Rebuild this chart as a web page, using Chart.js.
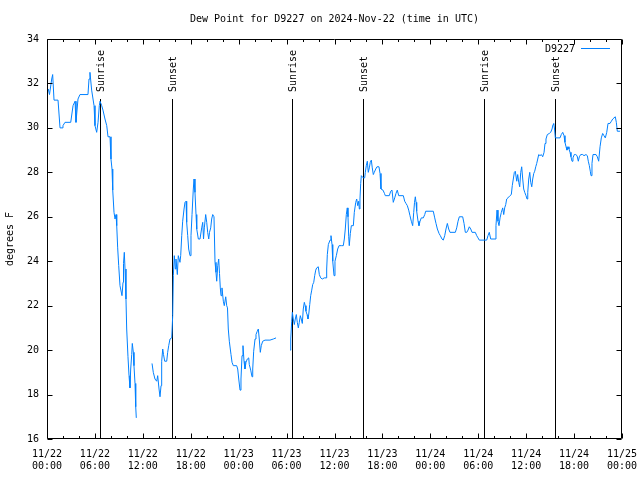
<!DOCTYPE html>
<html><head><meta charset="utf-8">
<script src="https://cdn.jsdelivr.net/npm/chart.js@4.4.1/dist/chart.umd.min.js"></script>
<style>html,body{margin:0;padding:0;background:#fff;} #wrap{width:640px;height:480px;}</style>
</head><body><div id="wrap"><canvas id="c" width="640" height="480"></canvas></div>
<script>
const titleText = 'Dew Point for D9227 on 2024-Nov-22 (time in UTC)';
const seriesName = 'D9227';
const yAxisLabel = 'degrees F';
const tickDates = ['11/22','11/22','11/22','11/22','11/23','11/23','11/23','11/23','11/24','11/24','11/24','11/24','11/25'];
const tickTimes = ['00:00','06:00','12:00','18:00','00:00','06:00','12:00','18:00','00:00','06:00','12:00','18:00','00:00'];
const yMin = 16, yMax = 34, yStep = 2;
const eventNames = ['Sunrise','Sunset','Sunrise','Sunset','Sunrise','Sunset'];
const eventHours = [6.68, 15.67, 30.68, 39.63, 54.66, 63.65];

// hours since 2024-11-22 00:00 UTC
const hours = [
0.16,0.31,0.59,0.71,0.88,1.38,1.63,1.88,2.0,2.25,2.97,3.26,3.51,3.63,3.88,4.13,5.13,5.26,5.38,5.59,
5.89,6.01,6.22,6.39,6.55,6.64,6.85,7.01,7.26,7.48,7.64,7.89,8.01,8.14,8.23,8.39,8.52,8.64,8.73,8.85,
8.98,9.14,9.39,9.52,9.58,9.68,9.77,9.89,9.98,10.14,10.27,10.39,10.48,10.61,10.68,10.81,10.89,11.02,11.11,11.18,
12.2,
13.15,13.31,13.52,13.74,13.86,14.03,14.15,14.28,14.36,14.49,14.59,14.74,14.99,15.11,15.24,15.40,15.62,15.74,15.82,15.94,
16.07,16.15,16.32,16.44,16.65,16.74,16.87,16.99,17.16,17.28,17.41,17.49,17.62,17.74,17.91,18.03,18.16,18.32,18.41,18.53,
18.66,18.75,18.95,19.16,19.37,19.50,19.60,19.70,19.87,20.00,20.12,20.25,20.35,20.50,20.62,20.75,20.91,21.04,21.16,21.25,
21.38,21.50,21.60,21.70,21.79,21.91,22.08,22.20,22.38,22.50,22.60,22.70,22.83,22.95,23.04,23.17,23.33,23.75,23.88,24.01,
24.17,24.29,24.42,24.54,24.67,24.79,24.92,25.08,25.26,25.33,25.51,25.67,25.76,25.88,26.05,26.17,26.33,26.46,26.58,26.71,
26.83,27.01,27.30,27.92,28.34,28.68,
29.5,
30.43,30.52,30.64,30.72,30.84,30.97,31.09,31.22,31.34,31.47,31.59,31.72,31.84,31.97,32.09,32.22,32.33,32.43,32.56,32.68,
32.77,32.90,33.02,33.15,33.27,33.40,33.52,33.65,33.77,33.97,34.10,34.27,34.47,34.72,34.94,35.02,35.10,35.23,35.44,35.56,
35.69,35.78,35.94,36.06,36.23,36.40,36.57,36.90,37.10,37.23,37.35,37.48,37.60,37.69,37.78,37.85,37.98,38.11,38.36,38.48,
38.66,38.78,38.91,39.03,39.11,39.19,39.28,39.36,39.48,39.61,39.78,39.86,39.98,40.11,40.23,40.36,40.48,40.61,40.73,40.86,
40.98,41.16,41.32,41.57,41.70,41.82,42.07,42.26,42.36,42.86,43.04,43.20,43.36,43.54,43.70,43.86,44.04,44.62,44.79,44.95,
45.12,45.29,45.45,45.62,45.79,45.92,46.02,46.12,46.21,46.29,46.46,46.58,46.71,46.87,47.12,47.30,47.42,48.37,48.55,48.71,
48.88,49.09,49.25,49.46,49.62,49.80,49.96,50.13,50.30,50.46,51.13,51.30,51.47,51.63,52.05,52.22,52.38,52.56,52.72,52.88,
53.06,53.22,53.63,53.81,53.97,54.13,55.06,55.22,55.38,55.56,56.10,56.22,56.35,56.47,56.60,56.73,56.89,57.06,57.19,57.31,
57.44,57.56,57.72,57.97,58.14,58.26,58.39,58.52,58.64,58.82,58.94,59.07,59.19,59.32,59.44,59.57,59.69,59.82,59.98,60.11,
60.20,60.32,60.45,60.57,60.70,60.82,60.95,61.07,61.20,61.32,61.45,61.57,61.73,61.90,62.07,62.24,62.36,62.48,62.65,62.90,
63.07,63.24,63.36,63.45,63.55,63.65,64.24,64.40,64.58,64.74,64.86,64.99,65.11,65.24,65.36,65.49,65.61,65.74,65.86,66.03,
66.20,66.37,66.53,66.66,66.83,67.08,67.24,67.49,67.66,67.78,67.91,68.03,68.12,68.24,68.37,68.75,68.91,69.08,69.25,69.41,
69.58,69.74,69.91,70.09,70.25,70.50,70.67,70.84,71.00,71.16,71.29,71.41,71.75
];
const dewPoint = [
31.75,31.5,32.2,32.4,31.25,31.25,30.0,30.0,30.1,30.25,30.25,31.0,31.2,30.25,31.3,31.5,31.5,32.2,32.5,31.7,
31.0,30.1,29.8,30.25,31.0,31.2,31.0,30.8,30.4,30.1,29.6,29.6,28.6,28.15,27.2,26.2,25.9,26.1,25.6,24.6,
23.8,22.9,22.45,23.05,23.9,24.4,23.65,22.3,20.95,19.7,18.85,18.3,19.15,19.8,20.3,19.9,19.3,18.5,17.45,16.95,
null,
19.4,19.0,18.7,18.6,18.85,18.25,17.9,18.4,19.5,20.05,19.8,19.5,19.5,19.9,20.2,20.5,20.55,21.55,23.35,24.25,
23.65,24.1,23.4,24.25,23.95,24.25,25.15,25.8,26.35,26.65,26.7,25.75,25.15,24.55,24.25,25.15,26.1,27.25,27.7,27.1,
26.1,25.45,25.0,25.0,25.5,25.75,25.0,25.5,26.1,25.75,25.3,25.0,25.3,25.5,25.9,26.1,26.0,23.95,23.5,23.1,
23.8,24.1,23.45,22.8,22.45,22.8,22.2,22.0,22.4,22.0,21.9,20.95,20.4,20.05,19.8,19.45,19.3,19.3,19.15,18.7,
18.2,18.7,19.75,20.2,19.5,19.15,19.45,19.6,19.65,19.35,19.1,18.8,19.15,19.95,20.5,20.7,20.85,20.95,20.5,19.9,
20.2,20.4,20.45,20.45,20.5,20.55,
null,
20.0,20.5,21.3,21.7,21.4,21.15,21.4,21.6,21.25,21.0,21.25,21.55,21.4,21.2,21.85,22.15,22.0,21.75,21.6,21.4,
21.6,22.05,22.45,22.7,22.95,23.05,23.35,23.6,23.7,23.75,23.4,23.25,23.2,23.25,23.25,23.65,24.3,24.75,24.95,25.15,
24.75,24.0,23.35,24.0,24.25,24.55,24.7,24.7,24.7,25.0,25.45,26.1,26.4,26.0,25.1,24.7,25.25,25.6,25.6,26.2,
26.65,26.8,26.5,26.7,26.35,26.8,27.5,27.85,27.8,27.75,27.75,28.0,28.3,28.5,28.0,28.2,28.45,28.55,28.2,27.9,
28.0,28.15,28.25,28.25,27.95,27.25,27.2,27.05,26.95,26.95,27.15,27.2,26.65,26.85,27.05,27.2,26.95,26.95,26.7,26.6,
26.5,26.3,26.05,25.8,25.6,26.2,26.65,26.9,26.65,26.25,25.8,25.6,25.8,25.95,25.95,26.1,26.25,26.25,25.95,25.7,
25.45,25.25,25.15,25.0,24.95,25.15,25.45,25.7,25.45,25.3,25.3,25.5,25.8,26.0,26.0,25.7,25.3,25.3,25.4,25.55,
25.45,25.3,25.3,25.15,25.05,24.95,24.95,25.15,25.3,25.0,25.0,25.6,26.3,25.8,25.6,25.95,26.2,26.4,26.1,26.4,
26.55,26.8,26.85,26.95,27.0,27.4,27.7,28.0,28.05,27.6,27.9,27.55,27.35,28.0,28.25,27.7,27.25,27.1,26.95,26.8,
27.1,27.7,28.0,27.55,27.35,27.7,27.95,28.05,28.25,28.4,28.6,28.8,28.75,28.8,28.7,28.9,29.3,29.5,29.7,29.75,
29.8,29.95,30.15,30.2,29.95,29.55,29.55,29.7,29.8,29.65,29.35,29.15,29.0,29.15,29.05,28.9,28.7,28.5,28.65,28.8,
28.8,28.75,28.5,28.7,28.8,28.8,28.75,28.8,28.75,28.5,28.3,28.05,27.85,28.4,28.8,28.8,28.7,28.5,29.15,29.55,
29.75,29.65,29.55,29.8,30.2,30.2,30.3,30.4,30.45,30.5,30.25,29.85,29.85
];

const FONT = "'DejaVu Sans Mono', 'Liberation Mono', monospace";
const lineColor = '#0080ff';

const points = hours.map((h, i) => ({x: h, y: dewPoint[i]}));

const gnuplotPlugin = {
  id: 'gnuplotDecor',
  beforeDatasetsDraw(chart) {
    const {ctx, chartArea: a, scales: {x}} = chart;
    ctx.save();
    ctx.strokeStyle = '#000';
    ctx.lineWidth = 1;
    ctx.fillStyle = '#000';
    ctx.font = '10px ' + FONT;
    eventHours.forEach((h, i) => {
      const px = Math.round(x.getPixelForValue(h)) + 0.5;
      ctx.beginPath();
      ctx.moveTo(px, 99);
      ctx.lineTo(px, a.bottom);
      ctx.stroke();
      ctx.save();
      ctx.translate(px + 1, 92);
      ctx.rotate(-Math.PI / 2);
      ctx.textAlign = 'left';
      ctx.textBaseline = 'middle';
      ctx.fillText(eventNames[i], 0, 0);
      ctx.restore();
    });
    ctx.restore();
  },
  afterDraw(chart) {
    const {ctx, chartArea: a, scales: {x, y}} = chart;
    ctx.save();
    ctx.strokeStyle = '#000';
    ctx.lineWidth = 1;
    const L = a.left + 0.5, R = a.right - 0.5, T = a.top + 0.5, B = a.bottom - 0.5;
    ctx.beginPath();
    ctx.rect(L, T, R - L, B - T);
    ctx.stroke();
    ctx.beginPath();
    for (let h = 0; h <= 72; h += 2) {
      const px = Math.round(x.getPixelForValue(h)) + 0.5;
      const len = (h % 6 === 0) ? 5 : 2.5;
      ctx.moveTo(px, B); ctx.lineTo(px, B - len);
      ctx.moveTo(px, T); ctx.lineTo(px, T + len);
    }
    for (let v = yMin; v <= yMax; v += yStep) {
      const py = Math.round(y.getPixelForValue(v)) + 0.5;
      ctx.moveTo(L, py); ctx.lineTo(L + 5, py);
      ctx.moveTo(R, py); ctx.lineTo(R - 5, py);
    }
    ctx.stroke();
    ctx.fillStyle = '#000';
    ctx.font = '10px ' + FONT;
    ctx.textAlign = 'center';
    ctx.textBaseline = 'middle';
    ctx.fillText(titleText, (a.left + a.right) / 2, 19);
    ctx.save();
    ctx.translate(10, (a.top + a.bottom) / 2);
    ctx.rotate(-Math.PI / 2);
    ctx.fillText(yAxisLabel, 0, 0);
    ctx.restore();
    ctx.textAlign = 'right';
    ctx.fillText(seriesName, 575, 49);
    ctx.strokeStyle = lineColor;
    ctx.beginPath();
    ctx.moveTo(581, 48.5); ctx.lineTo(610, 48.5);
    ctx.stroke();
    ctx.restore();
  }
};

new Chart(document.getElementById('c'), {
  type: 'line',
  data: {
    datasets: [{
      label: seriesName,
      data: points,
      borderColor: lineColor,
      borderWidth: 1,
      pointRadius: 0,
      tension: 0,
      spanGaps: false,
      fill: false
    }]
  },
  options: {
    responsive: false,
    animation: false,
    events: [],
    layout: {padding: {top: 39, right: 18, left: 0, bottom: 0}},
    plugins: {legend: {display: false}, title: {display: false}, tooltip: {enabled: false}},
    scales: {
      x: {
        type: 'linear', min: 0, max: 72,
        grid: {display: false, drawTicks: false},
        border: {display: false},
        afterFit(s) { s.height = 41; s.paddingLeft = 0; s.paddingRight = 0; },
        ticks: {
          stepSize: 6, autoSkip: false, maxRotation: 0, padding: 9,
          color: '#000', font: {family: FONT, size: 10},
          callback: (v, i) => [tickDates[i], tickTimes[i]]
        }
      },
      y: {
        min: yMin, max: yMax,
        grid: {display: false, drawTicks: false},
        border: {display: false},
        afterFit(s) { s.width = 47; s.paddingTop = 0; s.paddingBottom = 0; },
        ticks: {
          stepSize: yStep, padding: 8,
          color: '#000', font: {family: FONT, size: 10}
        }
      }
    }
  },
  plugins: [gnuplotPlugin]
});
</script>
</body></html>
